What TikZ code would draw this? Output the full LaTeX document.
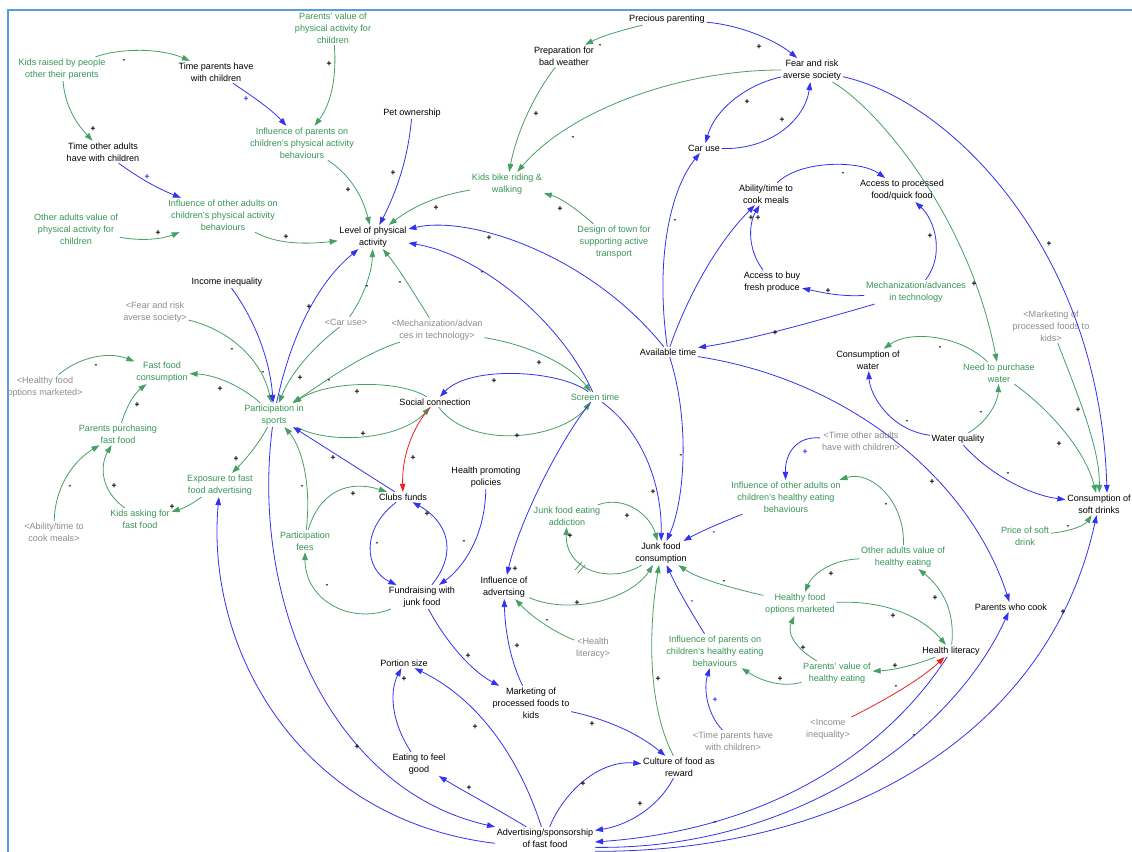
\documentclass[tikz,border=0pt]{standalone}
\usepackage{fontspec}
\setmainfont{Liberation Sans}
\usetikzlibrary{arrows.meta}
\definecolor{cblue}{RGB}{50,50,240}
\definecolor{cgreen}{RGB}{70,160,100}
\definecolor{tgreen}{RGB}{55,150,85}
\definecolor{tgray}{RGB}{140,140,140}
\definecolor{cred}{RGB}{240,30,30}
\definecolor{cframe}{RGB}{90,155,225}
\tikzset{
  v/.style={align=center, font=\fontsize{6.8}{9}\selectfont, inner sep=1.2pt, text=black},
  vg/.style={v, text=tgreen},
  vs/.style={v, text=tgray},
  lk/.style={line width=0.6pt, -{Triangle[length=6pt,width=4.2pt]}},
  bl/.style={lk, draw=cblue},
  gr/.style={lk, draw=cgreen},
  rd/.style={lk, draw=cred},
  sg/.style={font=\fontsize{6.3}{6.5}\selectfont\bfseries, inner sep=0pt, text=black},
  sgb/.style={sg, text=cblue},
}
\begin{document}
\begin{tikzpicture}[x=0.75pt,y=-0.75pt]
\useasboundingbox (0,0) rectangle (1132,852);
\fill[white] (0,0) rectangle (1132,852);
\draw[cframe, line width=1.5pt] (8,852) -- (8,10) -- (1132,10);

% ---------- nodes ----------
\node[vg] (kidsraised) at (62,69) {Kids raised by people\\other their parents};
\node[v] (tparents) at (216,72) {Time parents have\\with children};
\node[vg] (pvalpa) at (333,28) {Parents' value of\\physical activity for\\children};
\node[vg] (infparpa) at (302,143) {Influence of parents on\\children's physical activity\\behaviours};
\node[v] (tother) at (103,152) {Time other adults\\have with children};
\node[vg] (infothpa) at (223,215) {Influence of other adults on\\children's physical activity\\behaviours};
\node[vg] (othvalpa) at (76,229) {Other adults value of\\physical activity for\\children};
\node[v] (lpa) at (373,237) {Level of physical\\activity};
\node[v] (pet) at (412,113) {Pet ownership};
\node[v] (precious) at (667,19) {Precious parenting};
\node[v] (prep) at (564,56) {Preparation for\\bad weather};
\node[v] (fear) at (812,70) {Fear and risk\\averse society};
\node[v] (car) at (704,148) {Car use};
\node[vg] (bike) at (507,184) {Kids bike riding \&\\walking};
\node[vg] (design) at (614,242) {Design of town for\\supporting active\\transport};
\node[v] (ability) at (766,194) {Ability/time to\\cook meals};
\node[v] (accproc) at (902,190) {Access to processed\\food/quick food};
\node[v] (accfresh) at (772,282) {Access to buy\\fresh produce};
\node[vg] (mech) at (916,292) {Mechanization/advances\\in technology};
\node[v] (avail) at (668,352) {Available time};
\node[vs] (smkt) at (1051,326) {<Marketing of\\processed foods to\\kids>};
\node[v] (water) at (868,360) {Consumption of\\water};
\node[vg] (needw) at (999,373) {Need to purchase\\water};
\node[v] (wq) at (958,439) {Water quality};
\node[v] (soft) at (1099,504) {Consumption of\\soft drinks};
\node[vg] (price) at (1025,536) {Price of soft\\drink};
\node[v] (income) at (227,282) {Income inequality};
\node[vs] (sfear) at (155,312) {<Fear and risk\\averse society>};
\node[vs] (scar) at (346,322) {<Car use>};
\node[vs] (smech) at (437,330) {<Mechanization/advan\\ces in technology>};
\node[vg] (ffc) at (162,372) {Fast food\\consumption};
\node[vs] (shealthy) at (45,387) {<Healthy food\\options marketed>};
\node[vg] (part) at (274,415) {Participation in\\sports};
\node[v] (social) at (435,402) {Social connection};
\node[vg] (screen) at (595,397) {Screen time};
\node[vg] (ppff) at (118,434) {Parents purchasing\\fast food};
\node[vg] (expo) at (220,485) {Exposure to fast\\food advertising};
\node[vg] (kask) at (140,519) {Kids asking for\\fast food};
\node[vs] (sability) at (54,532) {<Ability/time to\\cook meals>};
\node[vg] (fees) at (305,541) {Participation\\fees};
\node[v] (clubs) at (403,497) {Clubs funds};
\node[v] (hpp) at (486,477) {Health promoting\\policies};
\node[v] (fund) at (422,597) {Fundraising with\\junk food};
\node[vg] (addict) at (567,516) {Junk food eating\\addiction};
\node[v] (jfc) at (661,553) {Junk food\\consumption};
\node[v] (infadv) at (504,587) {Influence of\\advertsing};
\node[vs] (shl) at (593,648) {<Health\\literacy>};
\node[vs] (stother) at (861,441) {<Time other adults\\have with children>};
\node[vg] (infothhe) at (786,497) {Influence of other adults on\\children's healthy eating\\behaviours};
\node[vg] (othvalhe) at (903,557) {Other adults value of\\healthy eating};
\node[vg] (hfo) at (800,604) {Healthy food\\options marketed};
\node[vg] (infparhe) at (715,651) {Influence of parents on\\children's healthy eating\\behaviours};
\node[vg] (pvalhe) at (837,673) {Parents' value of\\healthy eating};
\node[v] (hl) at (951,651) {Health literacy};
\node[v] (pcook) at (1011,607) {Parents who cook};
\node[vs] (sincome) at (828,729) {<Income\\inequality>};
\node[vs] (stpar) at (733,741) {<Time parents have\\with children>};
\node[v] (portion) at (404,663) {Portion size};
\node[v] (mkt) at (531,703) {Marketing of\\processed foods to\\kids};
\node[v] (eat) at (419,764) {Eating to feel\\good};
\node[v] (culture) at (679,767) {Culture of food as\\reward};
\node[v] (adv) at (545,838) {Advertising/sponsorship\\of fast food};

% ---------- connectors ----------
\draw[gr] (kidsraised) .. controls (120,48) and (160,48) .. (tparents);
\draw[gr] (kidsraised) .. controls (65,105) and (75,122) .. (tother);
\draw[bl] (tparents) .. controls (255,98) and (272,110) .. (infparpa);
\draw[gr] (pvalpa) .. controls (337,80) and (330,105) .. (infparpa);
\draw[bl] (tother) .. controls (135,175) and (152,186) .. (infothpa);
\draw[gr] (othvalpa) .. controls (145,242) and (165,238) .. (infothpa);
\draw[gr] (infothpa) .. controls (275,243) and (300,245) .. (lpa);
\draw[gr] (infparpa) .. controls (350,175) and (362,195) .. (lpa);
\draw[bl] (pet) .. controls (408,160) and (395,195) .. (lpa);
\draw[gr] (bike) .. controls (440,195) and (415,205) .. (lpa);
\draw[gr] (prep) .. controls (530,100) and (515,140) .. (bike);
\draw[gr] (precious) .. controls (615,32) and (600,37) .. (prep);
\draw[bl] (precious) .. controls (740,25) and (775,40) .. (fear);
\draw[gr] (fear) .. controls (680,70) and (570,110) .. (bike);
\draw[gr] (design) .. controls (572,205) and (558,197) .. (bike);
\draw[bl] (fear) .. controls (745,85) and (715,110) .. (car);
\draw[bl] (car) .. controls (770,150) and (805,120) .. (fear);
\draw[gr] (fear) .. controls (880,110) and (970,220) .. (needw);
\draw[bl] (fear) .. controls (950,100) and (1100,250) .. ([xshift=6pt]soft.north);
\draw[bl] (avail) .. controls (655,260) and (670,190) .. (car);
\draw[bl] (avail) .. controls (690,290) and (720,240) .. (ability);
\draw[bl] (accfresh) .. controls (748,250) and (748,225) .. (ability);
\draw[bl] (ability) .. controls (800,160) and (860,160) .. (accproc);
\draw[bl] (mech) .. controls (945,255) and (935,220) .. (accproc);
\draw[bl] (mech) .. controls (840,297) and (820,292) .. (accfresh);
\draw[bl] (mech) .. controls (820,320) and (750,340) .. (avail);
\draw[bl] (avail) .. controls (590,255) and (470,215) .. (lpa);
\draw[bl] (avail) .. controls (690,420) and (685,500) .. (jfc);
\draw[bl] (avail) .. controls (850,380) and (970,480) .. (pcook);
\draw[bl] (screen) .. controls (560,320) and (480,255) .. (lpa);
\draw[bl] (screen) .. controls (560,370) and (470,365) .. (social);
\draw[gr] (social) .. controls (470,450) and (560,440) .. (screen);
\draw[gr] (smech) .. controls (530,345) and (570,365) .. (screen);
\draw[bl] (screen) .. controls (640,430) and (662,480) .. (jfc);
\draw[bl] (screen) .. controls (560,440) and (520,520) .. (infadv);
\draw[gr] (smech) .. controls (415,295) and (400,270) .. (lpa);
\draw[gr] (scar) .. controls (365,295) and (372,270) .. (lpa);
\draw[gr] (scar) .. controls (310,350) and (290,375) .. (part);
\draw[gr] (smech) .. controls (360,355) and (320,385) .. (part);
\draw[gr] (social) .. controls (400,380) and (330,380) .. (part);
\draw[gr] (part) .. controls (330,445) and (400,440) .. (social);
\draw[bl] (clubs) -- (part);
\draw[gr] (fees) .. controls (312,480) and (300,445) .. (part);
\draw[gr] (fees) .. controls (320,490) and (350,480) .. (clubs);
\draw[gr] (fund) .. controls (350,625) and (305,600) .. (fees);
\draw[rd] (social) .. controls (410,430) and (402,460) .. (clubs);
\draw[bl] (clubs) .. controls (360,530) and (365,570) .. (fund);
\draw[bl] (fund) .. controls (460,550) and (445,520) .. (clubs);
\draw[bl] (hpp) .. controls (485,540) and (460,570) .. (fund);
\draw[gr] (sfear) .. controls (230,330) and (262,360) .. (part);
\draw[bl] (income) .. controls (255,320) and (270,360) .. (part);
\draw[bl] (part) .. controls (290,340) and (315,285) .. (lpa);
\draw[gr] (part) .. controls (240,385) and (215,375) .. (ffc);
\draw[gr] (part) .. controls (258,445) and (245,460) .. (expo);
\draw[gr] (shealthy) .. controls (75,360) and (105,350) .. (ffc);
\draw[gr] (ppff) .. controls (127,405) and (135,393) .. (ffc);
\draw[gr] (kask) .. controls (100,490) and (100,465) .. (ppff);
\draw[gr] (sability) .. controls (55,485) and (75,460) .. (ppff);
\draw[gr] (expo) to[bend left=10] (kask);
\draw[bl] (part) .. controls (250,600) and (330,790) .. (adv);
\draw[bl] ([yshift=-4pt]adv.west) .. controls (300,820) and (205,650) .. (expo);
\draw[bl] (fund) .. controls (445,640) and (470,670) .. (mkt);
\draw[bl] (mkt) .. controls (510,660) and (505,630) .. (infadv);
\draw[bl] (mkt) .. controls (610,720) and (640,735) .. (culture);
\draw[gr] (shl) .. controls (550,630) and (530,615) .. (infadv);
\draw[gr] (infadv) .. controls (570,615) and (630,600) .. (jfc);
\draw[gr] (jfc) .. controls (610,585) and (565,570) .. (addict);
\draw[gr] (addict) .. controls (625,495) and (650,515) .. (jfc);
\draw[gr] (culture) .. controls (645,700) and (650,620) .. (jfc);
\draw[gr] (hfo) .. controls (740,590) and (700,580) .. (jfc);
\draw[bl] (infparhe) .. controls (690,610) and (678,590) .. (jfc);
\draw[bl] (infothhe) .. controls (715,525) and (698,533) .. (jfc);
\draw[bl] (stother) .. controls (795,436) and (785,455) .. (infothhe);
\draw[gr] (othvalhe) .. controls (905,500) and (870,470) .. (infothhe);
\draw[gr] (othvalhe) .. controls (830,560) and (812,575) .. (hfo);
\draw[gr] (hfo) .. controls (890,600) and (925,620) .. (hl);
\draw[gr] (hl) .. controls (955,615) and (945,590) .. (othvalhe);
\draw[gr] (hl) .. controls (915,665) and (895,670) .. (pvalhe);
\draw[gr] (pvalhe) .. controls (790,645) and (788,630) .. (hfo);
\draw[gr] (pvalhe) .. controls (780,688) and (760,680) .. (infparhe);
\draw[rd] (sincome) .. controls (885,700) and (920,680) .. (hl);
\draw[bl] (stpar) .. controls (708,715) and (703,690) .. (infparhe);
\draw[gr] (needw) .. controls (960,335) and (910,330) .. (water);
\draw[bl] (wq) .. controls (890,430) and (870,395) .. (water);
\draw[gr] (wq) .. controls (990,420) and (998,400) .. (needw);
\draw[bl] (wq) .. controls (990,475) and (1030,495) .. (soft);
\draw[gr] (needw) .. controls (1050,410) and (1085,450) .. (soft);
\draw[gr] (smkt) .. controls (1080,400) and (1100,450) .. (soft);
\draw[gr] (price) .. controls (1072,531) and (1085,525) .. (soft);
\draw[bl] ([yshift=-10pt]adv.east) .. controls (850,852) and (1050,730) .. (soft);
\draw[bl] ([yshift=-7pt]adv.east) .. controls (790,850) and (950,740) .. (pcook);
\draw[bl] (hl) .. controls (880,760) and (760,830) .. ([yshift=-3pt]adv.east);
\draw[bl] (adv) .. controls (520,760) and (480,700) .. (portion);
\draw[bl] (eat) .. controls (390,720) and (390,690) .. (portion);
\draw[bl] (adv) .. controls (490,805) and (465,792) .. (eat);
\draw[bl] (adv) .. controls (565,790) and (600,760) .. (culture);
\draw[bl] (culture) .. controls (660,805) and (630,825) .. (adv);
% delay mark
\draw[cgreen, line width=0.6pt] (575,570) -- (582,562) (578,573) -- (585,565);

% ---------- polarity signs ----------
\node[sg] (p1) at (124,61) {-};
\node[sg] (p2) at (93,129) {+};
\node[sgb] (p3) at (246,99) {+};
\node[sg] (p4) at (329,64) {+};
\node[sgb] (p5) at (147,177) {+};
\node[sg] (p6) at (158,233) {+};
\node[sg] (p7) at (286,237) {+};
\node[sg] (p8) at (348,190) {+};
\node[sg] (p9) at (393,173) {+};
\node[sg] (p10) at (436,208) {+};
\node[sg] (p11) at (536,114) {+};
\node[sg] (p12) at (600,46) {-};
\node[sg] (p13) at (759,47) {+};
\node[sg] (p14) at (573,138) {-};
\node[sg] (p15) at (560,209) {+};
\node[sg] (p16) at (747,102) {+};
\node[sg] (p17) at (782,120) {+};
\node[sg] (p18) at (974,284) {+};
\node[sg] (p19) at (1049,244) {+};
\node[sg] (p20) at (675,221) {-};
\node[sg] (p21) at (751,218) {+};
\node[sg] (p22) at (758,218) {+};
\node[sg] (p23) at (843,174) {-};
\node[sg] (p24) at (930,236) {+};
\node[sg] (p25) at (828,291) {+};
\node[sg] (p26) at (775,333) {+};
\node[sg] (p27) at (489,238) {+};
\node[sg] (p28) at (482,273) {-};
\node[sg] (p29) at (681,456) {-};
\node[sg] (p30) at (932,482) {+};
\node[sg] (p31) at (494,381) {+};
\node[sg] (p32) at (517,436) {+};
\node[sg] (p33) at (539,363) {+};
\node[sg] (p34) at (653,492) {+};
\node[sg] (p35) at (515,569) {+};
\node[sg] (p36) at (400,283) {-};
\node[sg] (p37) at (367,287) {-};
\node[sg] (p38) at (300,378) {+};
\node[sg] (p39) at (329,381) {-};
\node[sg] (p40) at (357,392) {+};
\node[sg] (p41) at (363,434) {+};
\node[sg] (p42) at (333,458) {+};
\node[sg] (p43) at (302,487) {-};
\node[sg] (p44) at (353,494) {+};
\node[sg] (p45) at (327,586) {-};
\node[sg] (p46) at (413,458) {+};
\node[sg] (p47) at (377,544) {-};
\node[sg] (p48) at (427,514) {+};
\node[sg] (p49) at (464,542) {-};
\node[sg] (p50) at (232,350) {-};
\node[sg] (p51) at (263,373) {-};
\node[sg] (p52) at (309,307) {+};
\node[sg] (p53) at (220,389) {+};
\node[sg] (p54) at (236,459) {+};
\node[sg] (p55) at (96,366) {-};
\node[sg] (p56) at (137,405) {+};
\node[sg] (p57) at (114,486) {+};
\node[sg] (p58) at (70,487) {-};
\node[sg] (p59) at (172,507) {+};
\node[sg] (p60) at (357,747) {+};
\node[sg] (p61) at (468,656) {+};
\node[sg] (p62) at (517,646) {+};
\node[sg] (p63) at (592,724) {+};
\node[sg] (p64) at (547,621) {-};
\node[sg] (p65) at (577,603) {+};
\node[sg] (p66) at (570,536) {+};
\node[sg] (p67) at (627,516) {+};
\node[sg] (p68) at (658,679) {+};
\node[sg] (p69) at (724,582) {-};
\node[sgb] (p70) at (692,602) {-};
\node[sgb] (p71) at (714,533) {-};
\node[sgb] (p72) at (805,452) {+};
\node[sg] (p73) at (886,505) {-};
\node[sg] (p74) at (831,574) {+};
\node[sg] (p75) at (893,616) {+};
\node[sg] (p76) at (935,598) {+};
\node[sg] (p77) at (895,666) {+};
\node[sg] (p78) at (803,648) {+};
\node[sg] (p79) at (780,679) {+};
\node[sg] (p80) at (896,687) {-};
\node[sgb] (p81) at (715,700) {+};
\node[sg] (p82) at (940,348) {-};
\node[sg] (p83) at (907,422) {-};
\node[sg] (p84) at (981,413) {-};
\node[sg] (p85) at (1008,474) {-};
\node[sg] (p86) at (1059,444) {+};
\node[sg] (p87) at (1078,410) {+};
\node[sg] (p88) at (1068,527) {-};
\node[sg] (p89) at (1063,612) {+};
\node[sg] (p90) at (914,736) {-};
\node[sg] (p91) at (715,823) {-};
\node[sg] (p92) at (475,727) {+};
\node[sg] (p93) at (404,679) {+};
\node[sg] (p94) at (469,788) {+};
\node[sg] (p95) at (583,784) {+};
\node[sg] (p96) at (640,804) {+};
\end{tikzpicture}
\end{document}
